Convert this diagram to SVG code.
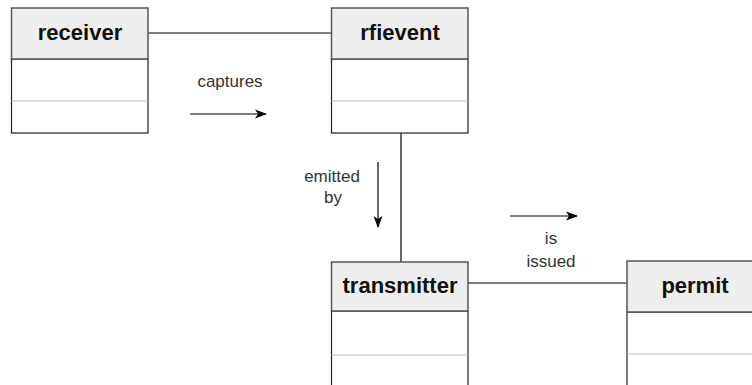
<svg xmlns="http://www.w3.org/2000/svg" width="752" height="385" viewBox="0 0 752 385">
  <style>
    .hdr { fill: #eeeeee; stroke: #555555; stroke-width: 1.5; }
    .body { fill: #ffffff; stroke: #222222; stroke-width: 1.2; }
    .div { stroke: #bdbdbd; stroke-width: 1.2; }
    .title { font-family: "Liberation Sans", Arial, sans-serif; font-weight: bold; font-size: 22px; fill: #111111; text-anchor: middle; }
    .lbl { font-family: "Liberation Sans", Arial, sans-serif; font-size: 17px; fill: #333333; text-anchor: middle; }
    .edge { stroke: #000000; stroke-width: 1.2; fill: none; }
  </style>
  <defs>
    <marker id="arrow" markerWidth="12" markerHeight="12" refX="11" refY="6" orient="auto" markerUnits="userSpaceOnUse">
      <path d="M0,1.5 L12,6 L0,10.5 L3,6 Z" fill="#000000"/>
    </marker>
  </defs>
  <rect width="752" height="385" fill="#ffffff"/>

  <!-- connectors -->
  <g id="connectors">
    <path class="edge" d="M148,33 H332"/>
    <path class="edge" d="M401,133 V262"/>
    <path class="edge" d="M468,283 H627"/>
    <path class="edge" marker-end="url(#arrow)" d="M190,114 H266"/>
    <path class="edge" marker-end="url(#arrow)" d="M378,162 V227"/>
    <path class="edge" marker-end="url(#arrow)" d="M510,216 H577"/>
    <text class="lbl" x="230" y="87">captures</text>
    <text class="lbl" x="332" y="182">emitted</text>
    <text class="lbl" x="333" y="203">by</text>
    <text class="lbl" x="551" y="244">is</text>
    <text class="lbl" x="551" y="267">issued</text>
  </g>

  <!-- classes -->
  <g id="receiver">
    <rect class="body" x="11.5" y="59" width="136.5" height="74"/>
    <line class="div" x1="11.5" y1="101" x2="148" y2="101"/>
    <rect class="hdr" x="11.5" y="8" width="136.5" height="51"/>
    <text class="title" x="80" y="40">receiver</text>
  </g>

  <g id="rfievent">
    <rect class="body" x="331.5" y="59" width="136.5" height="74"/>
    <line class="div" x1="331.5" y1="101" x2="468" y2="101"/>
    <rect class="hdr" x="331.5" y="8" width="136.5" height="51"/>
    <text class="title" x="400" y="40">rfievent</text>
  </g>

  <g id="transmitter">
    <rect class="body" x="331.5" y="311" width="136.5" height="90"/>
    <line class="div" x1="331.5" y1="355" x2="468" y2="355"/>
    <rect class="hdr" x="331.5" y="262" width="136.5" height="49"/>
    <text class="title" x="400" y="293">transmitter</text>
  </g>

  <g id="permit">
    <rect class="body" x="627" y="312" width="140" height="90"/>
    <line class="div" x1="627" y1="354" x2="767" y2="354"/>
    <rect class="hdr" x="627" y="261" width="140" height="51"/>
    <text class="title" x="695" y="293">permit</text>
  </g>
</svg>
